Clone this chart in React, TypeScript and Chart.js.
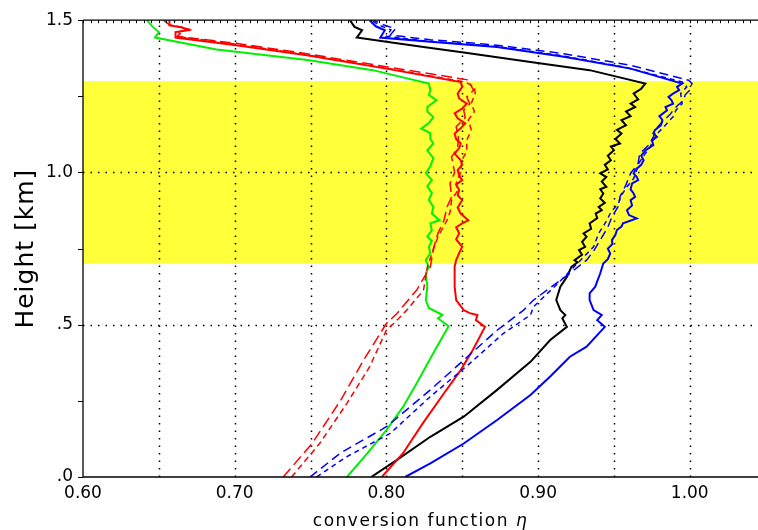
import React, { useEffect, useRef } from 'react';
import { Chart, registerables } from 'chart.js';
Chart.register(...registerables);

// ---- axis / tick definitions ----
const xTickValues = [0.6, 0.7, 0.8, 0.9, 1.0];
const xTickLabels = ['0.60', '0.70', '0.80', '0.90', '1.00'];
const yTickValues = [0, 0.5, 1.0, 1.5];
const yTickLabels = ['.0', '.5', '1.0', '1.5'];
const xGridValues = [0.65, 0.7, 0.75, 0.8, 0.85, 0.9, 0.95, 1.0];
const yGridValues = [0.5, 1.0];
const yMinorTicks = [0, 0.25, 0.5, 0.75, 1.0, 1.25, 1.5];
const xMin = 0.6;
const xMax = 1.045;
const yMin = 0;
const yMax = 1.5;
const bandLow = 0.7;
const bandHigh = 1.3;
const xTitle = 'conversion function ';
const xTitleSymbol = 'η';
const yTitle = 'Height [km]';

// ---- series (eta, height in km) ----
const greenHeight = [0, 0.075, 0.154, 0.23, 0.308, 0.407, 0.495, 0.521, 0.532, 0.555, 0.581, 0.625, 0.669, 0.69, 0.712, 0.735, 0.756, 0.775, 0.789, 0.81, 0.833, 0.843, 0.865, 0.887, 0.91, 0.932, 0.955, 0.975, 0.998, 1.02, 1.047, 1.073, 1.095, 1.11, 1.129, 1.144, 1.162, 1.182, 1.2, 1.215, 1.237, 1.255, 1.27, 1.292, 1.336, 1.369, 1.404, 1.443, 1.461, 1.478, 1.5];
const greenEta = [0.774, 0.787, 0.8, 0.811, 0.82, 0.831, 0.841, 0.834, 0.837, 0.828, 0.826, 0.827, 0.826, 0.828, 0.826, 0.829, 0.828, 0.83, 0.827, 0.83, 0.829, 0.835, 0.83, 0.831, 0.828, 0.83, 0.827, 0.83, 0.826, 0.829, 0.831, 0.827, 0.831, 0.829, 0.829, 0.823, 0.828, 0.831, 0.827, 0.827, 0.833, 0.828, 0.829, 0.828, 0.791, 0.748, 0.688, 0.6475, 0.65, 0.646, 0.642];

const redHeight = [0, 0.078, 0.176, 0.275, 0.351, 0.417, 0.493, 0.515, 0.532, 0.538, 0.548, 0.581, 0.625, 0.69, 0.712, 0.735, 0.756, 0.78, 0.8, 0.82, 0.833, 0.843, 0.865, 0.885, 0.909, 0.925, 0.942, 0.96, 0.975, 0.99, 1.008, 1.025, 1.04, 1.062, 1.08, 1.095, 1.11, 1.128, 1.145, 1.161, 1.178, 1.194, 1.21, 1.226, 1.243, 1.259, 1.281, 1.297, 1.341, 1.385, 1.418, 1.443, 1.461, 1.467, 1.477, 1.483, 1.5];
const redEta = [0.797, 0.811, 0.824, 0.838, 0.849, 0.857, 0.865, 0.859, 0.86, 0.855, 0.851, 0.846, 0.845, 0.845, 0.846, 0.848, 0.85, 0.846, 0.848, 0.846, 0.85, 0.854, 0.849, 0.847, 0.85, 0.847, 0.848, 0.846, 0.85, 0.848, 0.847, 0.85, 0.849, 0.845, 0.848, 0.849, 0.846, 0.845, 0.849, 0.852, 0.847, 0.845, 0.85, 0.853, 0.848, 0.847, 0.85, 0.849, 0.8, 0.7475, 0.701, 0.661, 0.661, 0.6695, 0.665, 0.657, 0.657];

const redLongHeight = [0, 0.11, 0.253, 0.384, 0.504, 0.537, 0.614, 0.69, 0.75, 0.8, 0.843, 0.887, 0.92, 0.964, 1.0, 1.051, 1.08, 1.117, 1.15, 1.18, 1.204, 1.225, 1.248, 1.27, 1.292, 1.303, 1.347, 1.39, 1.424, 1.447, 1.472, 1.485, 1.5];
const redLongEta = [0.732, 0.751, 0.77, 0.785, 0.8, 0.807, 0.82, 0.829, 0.831, 0.834, 0.838, 0.84, 0.843, 0.842, 0.845, 0.843, 0.847, 0.8475, 0.846, 0.852, 0.851, 0.855, 0.853, 0.8575, 0.855, 0.855, 0.8, 0.7475, 0.701, 0.662, 0.668, 0.657, 0.653];

const redShortHeight = [0, 0.11, 0.242, 0.362, 0.482, 0.505, 0.548, 0.614, 0.69, 0.789, 0.843, 0.87, 0.909, 0.94, 0.964, 1.0, 1.04, 1.07, 1.106, 1.14, 1.172, 1.2, 1.227, 1.26, 1.281, 1.297, 1.341, 1.385, 1.42, 1.445, 1.462, 1.47, 1.48, 1.5];
const redShortEta = [0.7375, 0.756, 0.774, 0.789, 0.8, 0.805, 0.8135, 0.8245, 0.827, 0.834, 0.84, 0.842, 0.843, 0.847, 0.846, 0.849, 0.8497, 0.853, 0.853, 0.856, 0.854, 0.858, 0.856, 0.8586, 0.858, 0.852, 0.802, 0.749, 0.703, 0.664, 0.663, 0.67, 0.662, 0.66];

const blackHeight = [0, 0.056, 0.132, 0.198, 0.286, 0.378, 0.45, 0.493, 0.521, 0.532, 0.548, 0.581, 0.625, 0.657, 0.69, 0.705, 0.712, 0.73, 0.745, 0.756, 0.772, 0.789, 0.8, 0.815, 0.833, 0.85, 0.865, 0.876, 0.887, 0.9, 0.915, 0.931, 0.945, 0.953, 0.97, 0.985, 0.997, 1.01, 1.025, 1.04, 1.055, 1.073, 1.085, 1.095, 1.11, 1.128, 1.14, 1.155, 1.172, 1.185, 1.2, 1.215, 1.226, 1.24, 1.259, 1.275, 1.292, 1.336, 1.363, 1.394, 1.412, 1.429, 1.443, 1.467, 1.478, 1.5];
const blackEta = [0.79, 0.807, 0.829, 0.851, 0.873, 0.895, 0.908, 0.919, 0.916, 0.918, 0.9147, 0.912, 0.9147, 0.919, 0.922, 0.926, 0.924, 0.929, 0.927, 0.931, 0.929, 0.932, 0.93, 0.935, 0.934, 0.939, 0.938, 0.942, 0.94, 0.944, 0.941, 0.943, 0.941, 0.945, 0.942, 0.945, 0.941, 0.946, 0.944, 0.948, 0.946, 0.95, 0.948, 0.954, 0.951, 0.955, 0.952, 0.958, 0.955, 0.961, 0.958, 0.964, 0.961, 0.966, 0.963, 0.968, 0.9707, 0.934, 0.895, 0.851, 0.8245, 0.8, 0.7805, 0.784, 0.779, 0.776];

const blueHeight = [0, 0.045, 0.11, 0.187, 0.269, 0.33, 0.395, 0.428, 0.493, 0.515, 0.532, 0.548, 0.581, 0.603, 0.625, 0.669, 0.701, 0.715, 0.734, 0.75, 0.765, 0.778, 0.795, 0.811, 0.822, 0.833, 0.849, 0.86, 0.876, 0.892, 0.909, 0.92, 0.931, 0.945, 0.964, 0.975, 0.986, 0.997, 1.008, 1.025, 1.04, 1.055, 1.073, 1.09, 1.105, 1.117, 1.128, 1.139, 1.155, 1.172, 1.185, 1.204, 1.215, 1.226, 1.237, 1.248, 1.259, 1.27, 1.281, 1.292, 1.341, 1.38, 1.412, 1.429, 1.443, 1.467, 1.48, 1.5];
const blueEta = [0.8124, 0.829, 0.851, 0.873, 0.895, 0.908, 0.921, 0.932, 0.944, 0.939, 0.942, 0.9366, 0.934, 0.934, 0.9377, 0.941, 0.943, 0.946, 0.9476, 0.946, 0.949, 0.9487, 0.951, 0.952, 0.955, 0.956, 0.965, 0.96, 0.9586, 0.962, 0.961, 0.964, 0.963, 0.961, 0.962, 0.966, 0.965, 0.963, 0.964, 0.968, 0.9696, 0.968, 0.971, 0.976, 0.975, 0.9784, 0.976, 0.977, 0.981, 0.982, 0.98, 0.985, 0.984, 0.989, 0.988, 0.986, 0.989, 0.993, 0.9916, 0.995, 0.961, 0.917, 0.873, 0.829, 0.796, 0.799, 0.793, 0.789];

const blueLongHeight = [0, 0.078, 0.165, 0.286, 0.384, 0.482, 0.548, 0.581, 0.669, 0.712, 0.745, 0.778, 0.82, 0.854, 0.89, 0.92, 0.96, 0.997, 1.03, 1.062, 1.09, 1.117, 1.15, 1.172, 1.19, 1.204, 1.22, 1.237, 1.255, 1.27, 1.292, 1.303, 1.352, 1.39, 1.418, 1.436, 1.451, 1.472, 1.485, 1.5];
const blueLongEta = [0.7497, 0.7695, 0.8, 0.829, 0.851, 0.873, 0.8905, 0.897, 0.921, 0.932, 0.937, 0.941, 0.946, 0.9487, 0.953, 0.954, 0.958, 0.961, 0.966, 0.967, 0.973, 0.976, 0.979, 0.983, 0.987, 0.989, 0.992, 0.996, 0.997, 1.0, 1.0015, 0.9993, 0.961, 0.917, 0.873, 0.829, 0.8025, 0.806, 0.798, 0.7915];

const blueShortHeight = [0, 0.067, 0.143, 0.264, 0.373, 0.471, 0.532, 0.559, 0.64, 0.712, 0.756, 0.8, 0.843, 0.87, 0.898, 0.925, 0.953, 0.98, 1.008, 1.035, 1.062, 1.085, 1.106, 1.13, 1.15, 1.183, 1.205, 1.226, 1.259, 1.281, 1.297, 1.345, 1.385, 1.415, 1.432, 1.447, 1.468, 1.482, 1.5];
const blueShortEta = [0.754, 0.774, 0.8025, 0.829, 0.855, 0.877, 0.895, 0.897, 0.914, 0.928, 0.9366, 0.94, 0.9454, 0.948, 0.953, 0.955, 0.9586, 0.963, 0.965, 0.967, 0.9707, 0.974, 0.976, 0.979, 0.983, 0.989, 0.991, 0.995, 0.994, 0.998, 0.995, 0.958, 0.914, 0.87, 0.826, 0.8, 0.803, 0.796, 0.79];

const zip = (eta: number[], h: number[]) => eta.map((e, i) => ({ x: e, y: h[i] }));

const decor = {
  id: 'decor',
  beforeDraw(chart: any) {
    const { ctx, chartArea: a, scales } = chart;
    const x = scales.x;
    const y = scales.y;
    ctx.save();
    ctx.fillStyle = '#ffffff';
    ctx.fillRect(0, 0, chart.width, chart.height);
    ctx.fillStyle = '#ffff3a';
    const yt = y.getPixelForValue(bandHigh);
    const yb = y.getPixelForValue(bandLow);
    ctx.fillRect(a.left, yt, a.right - a.left, yb - yt);
    // dotted grid
    ctx.strokeStyle = '#000000';
    ctx.lineWidth = 1.5;
    ctx.setLineDash([1.5, 6]);
    for (const v of xGridValues) {
      const px = Math.round(x.getPixelForValue(v)) + 0.5;
      ctx.beginPath();
      ctx.moveTo(px, a.bottom);
      ctx.lineTo(px, a.top);
      ctx.stroke();
    }
    for (const v of yGridValues) {
      const py = Math.round(y.getPixelForValue(v)) + 0.5;
      ctx.beginPath();
      ctx.moveTo(a.left, py);
      ctx.lineTo(a.right, py);
      ctx.stroke();
    }
    ctx.restore();
  },
  afterDraw(chart: any) {
    const { ctx, chartArea: a, scales } = chart;
    const x = scales.x;
    const y = scales.y;
    ctx.save();
    ctx.strokeStyle = '#000000';
    ctx.lineWidth = 1.3;
    ctx.setLineDash([]);
    ctx.beginPath();
    ctx.moveTo(a.left, a.top);
    ctx.lineTo(a.right, a.top);
    ctx.moveTo(a.left, a.top);
    ctx.lineTo(a.left, a.bottom);
    ctx.lineTo(a.right, a.bottom);
    ctx.stroke();
    // left ticks (outward)
    ctx.lineWidth = 1;
    ctx.beginPath();
    for (const v of yMinorTicks) {
      const py = Math.round(y.getPixelForValue(v)) + 0.5;
      ctx.moveTo(a.left - 5, py);
      ctx.lineTo(a.left, py);
    }
    // top minor ticks
    for (let v = xMin; v <= xMax + 1e-9; v += 0.005) {
      const px = Math.round(x.getPixelForValue(v)) + 0.5;
      ctx.moveTo(px, a.top);
      ctx.lineTo(px, a.top + 3);
    }
    ctx.stroke();
    // x title
    ctx.fillStyle = '#000000';
    ctx.textBaseline = 'alphabetic';
    ctx.textAlign = 'left';
    (ctx as any).letterSpacing = '1.5px';
    ctx.font = '17px "DejaVu Sans"';
    const w1 = ctx.measureText(xTitle).width;
    ctx.font = 'italic 17px "DejaVu Sans"';
    const w2 = ctx.measureText(xTitleSymbol).width;
    const cx = (a.left + a.right) / 2;
    const sx = cx - (w1 + w2) / 2;
    ctx.font = '17px "DejaVu Sans"';
    ctx.fillText(xTitle, sx, 526);
    ctx.font = 'italic 17px "DejaVu Sans"';
    ctx.fillText(xTitleSymbol, sx + w1, 526);
    // y title
    (ctx as any).letterSpacing = '1px';
    ctx.translate(33, (a.top + a.bottom) / 2);
    ctx.rotate(-Math.PI / 2);
    ctx.textAlign = 'center';
    ctx.font = '25px "DejaVu Sans"';
    ctx.fillText(yTitle, 0, 0);
    ctx.restore();
  },
};

export default function App() {
  const ref = useRef<HTMLCanvasElement>(null);
  useEffect(() => {
    if (!ref.current) return;
    const solid = (eta: number[], h: number[], color: string) => ({
      data: zip(eta, h),
      borderColor: color,
      borderWidth: 2,
      pointRadius: 0,
      showLine: true,
      tension: 0,
    });
    const dashed = (eta: number[], h: number[], color: string, dash: number[]) => ({
      data: zip(eta, h),
      borderColor: color,
      borderWidth: 1.5,
      borderDash: dash,
      pointRadius: 0,
      showLine: true,
      tension: 0,
    });
    const chart = new Chart(ref.current, {
      type: 'scatter',
      data: {
        datasets: [
          dashed(redLongEta, redLongHeight, '#ff0000', [11, 5]),
          dashed(redShortEta, redShortHeight, '#ff0000', [6, 4]),
          dashed(blueLongEta, blueLongHeight, '#0000ff', [9, 5]),
          dashed(blueShortEta, blueShortHeight, '#0000ff', [5, 4]),
          solid(greenEta, greenHeight, '#00f000'),
          solid(redEta, redHeight, '#ff0000'),
          solid(blackEta, blackHeight, '#000000'),
          solid(blueEta, blueHeight, '#0000ff'),
        ] as any,
      },
      options: {
        animation: false,
        responsive: false,
        devicePixelRatio: 1,
        layout: { padding: { top: 20, right: 0, left: 0, bottom: 0 } },
        plugins: { legend: { display: false }, tooltip: { enabled: false } },
        scales: {
          x: {
            type: 'linear',
            min: xMin,
            max: xMax,
            afterBuildTicks: (s: any) => {
              s.ticks = xTickValues.map((v) => ({ value: v }));
            },
            afterFit: (s: any) => {
              s.height = 53;
            },
            grid: { display: false, drawTicks: false },
            border: { display: false },
            ticks: {
              autoSkip: false,
              maxRotation: 0,
              padding: 6,
              color: '#000000',
              font: { family: 'DejaVu Sans', size: 17 },
              callback: (_v: any, i: number) => xTickLabels[i],
            },
          },
          y: {
            type: 'linear',
            min: yMin,
            max: yMax,
            afterBuildTicks: (s: any) => {
              s.ticks = yTickValues.map((v) => ({ value: v }));
            },
            afterFit: (s: any) => {
              s.width = 83;
            },
            grid: { display: false, drawTicks: false },
            border: { display: false },
            ticks: {
              autoSkip: false,
              padding: 10,
              color: '#000000',
              font: { family: 'DejaVu Sans', size: 17 },
              callback: (_v: any, i: number) => yTickLabels[i],
            },
          },
        },
      },
      plugins: [decor],
    });
    return () => chart.destroy();
  }, []);
  return (
    <div style={{ position: 'fixed', left: 0, top: 0, width: 758, height: 530, background: '#fff' }}>
      <canvas ref={ref} width={758} height={530} style={{ display: 'block' }} />
    </div>
  );
}
